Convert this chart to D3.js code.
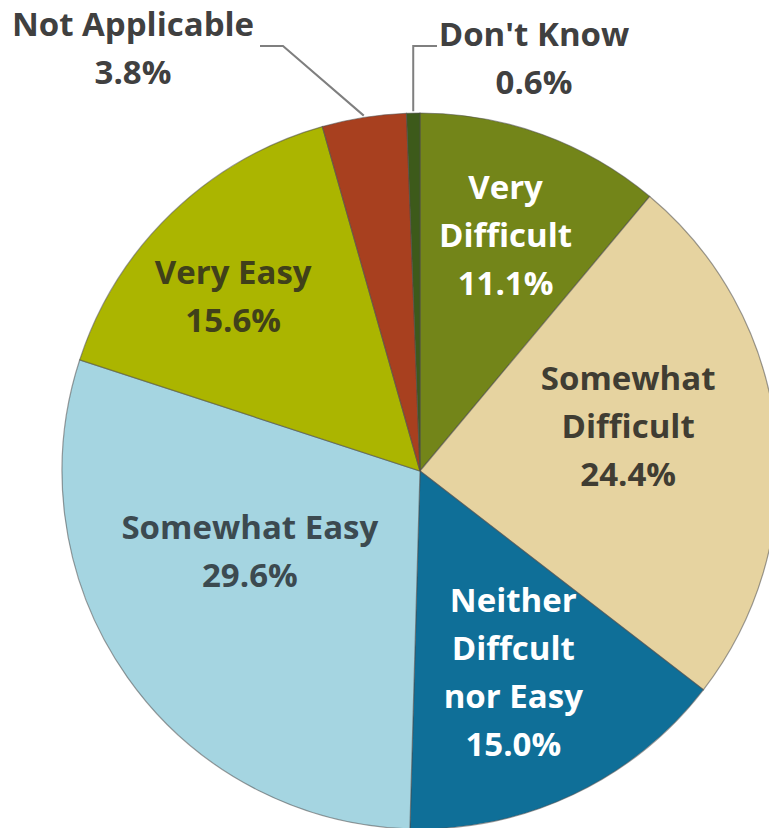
<!DOCTYPE html>
<html>
<head>
<meta charset="utf-8">
<script src="https://cdn.jsdelivr.net/npm/d3@7/dist/d3.min.js"></script>
<style>
  html, body { margin: 0; padding: 0; background: #ffffff; }
  svg { display: block; }
  text { font-family: "Open Sans", "DejaVu Sans", sans-serif; font-weight: 700; }
</style>
</head>
<body>
<svg id="chart" width="769" height="828"></svg>
<script>
// Survey responses: how difficult was it?
const categories = [
  "Very Difficult",
  "Somewhat Difficult",
  "Neither Diffcult nor Easy",
  "Somewhat Easy",
  "Very Easy",
  "Not Applicable",
  "Don't Know"
];
const percents = [11.1, 24.4, 15.0, 29.6, 15.6, 3.8, 0.6];
// Label lines as printed inside / beside each slice
const labelLines = [
  ["Very", "Difficult"],
  ["Somewhat", "Difficult"],
  ["Neither", "Diffcult", "nor Easy"],
  ["Somewhat Easy"],
  ["Very Easy"],
  ["Not Applicable"],
  ["Don't Know"]
];

const sliceColors = ["#738519", "#e6d3a0", "#0f6f98", "#a5d5e1", "#abb500", "#a8401f", "#3d5a1a"];
const textColors  = ["#ffffff", "#403d33", "#ffffff", "#3c4a50", "#40401a", "#404040", "#404040"];

// Placement of the in-slice labels: radius fraction and angle nudge (degrees)
const inside = {
  0: { r: 0.70, nudge: 0 },
  1: { r: 0.595, nudge: -6 },
  2: { r: 0.62, nudge: 0.5 },
  3: { r: 0.525, nudge: 10 },
  4: { r: 0.715, nudge: -3 }
};
// Callout labels for the two thin slices: text centre and leader elbow
const callouts = {
  5: { x: 133, y: 24, elbowX: 283, endX: 260 },
  6: { x: 534, y: 34, elbowX: null, endX: 437 }
};

const W = 769, H = 828;
const cx = 420, cy = 471, R = 358;
const fontSize = 33, lineH = 48;

const svg = d3.select("#chart");
const g = svg.append("g").attr("transform", `translate(${cx},${cy})`);

const data = categories.map((c, i) => ({ name: c, value: percents[i], i }));
const pie = d3.pie().sort(null).value(d => d.value).startAngle(0).endAngle(2 * Math.PI);
const arcs = pie(data);
const arc = d3.arc().innerRadius(0).outerRadius(R);

g.selectAll("path.slice")
  .data(arcs)
  .join("path")
  .attr("class", "slice")
  .attr("d", arc)
  .attr("fill", d => sliceColors[d.data.i])
  .attr("stroke", "#4d4d4d")
  .attr("stroke-opacity", 0.55)
  .attr("stroke-width", 1.2);

function polar(angle, r) {
  return [Math.sin(angle) * r, -Math.cos(angle) * r];
}

// In-slice labels
arcs.forEach(a => {
  const i = a.data.i;
  if (!(i in inside)) return;
  const cfg = inside[i];
  const mid = (a.startAngle + a.endAngle) / 2 + cfg.nudge * Math.PI / 180;
  const [x, y] = polar(mid, R * cfg.r);
  const lines = labelLines[i].concat([a.data.value.toFixed(1) + "%"]);
  const top = y - (lines.length - 1) * lineH / 2;
  const t = g.append("text")
    .attr("text-anchor", "middle")
    .attr("font-size", fontSize)
    .attr("fill", textColors[i]);
  lines.forEach((ln, k) => {
    t.append("tspan")
      .attr("x", x)
      .attr("y", top + k * lineH)
      .attr("dy", "0.36em")
      .text(ln);
  });
});

// Callout labels with leader lines
arcs.forEach(a => {
  const i = a.data.i;
  if (!(i in callouts)) return;
  const cfg = callouts[i];
  const lines = labelLines[i].concat([a.data.value.toFixed(1) + "%"]);
  const t = svg.append("text")
    .attr("text-anchor", "middle")
    .attr("font-size", fontSize)
    .attr("fill", textColors[i]);
  lines.forEach((ln, k) => {
    t.append("tspan")
      .attr("x", cfg.x)
      .attr("y", cfg.y + k * lineH)
      .attr("dy", "0.36em")
      .text(ln);
  });
  const mid = (a.startAngle + a.endAngle) / 2;
  const [ex, ey] = polar(mid, R * 1.005);
  const lineY = 46;
  const elbowX = cfg.elbowX === null ? cx + ex : cfg.elbowX;
  svg.append("path")
    .attr("d", `M${cfg.endX},${lineY} L${elbowX},${lineY} L${cx + ex},${cy + ey}`)
    .attr("fill", "none")
    .attr("stroke", "#7f7f7f")
    .attr("stroke-width", 2);
});
</script>
</body>
</html>
